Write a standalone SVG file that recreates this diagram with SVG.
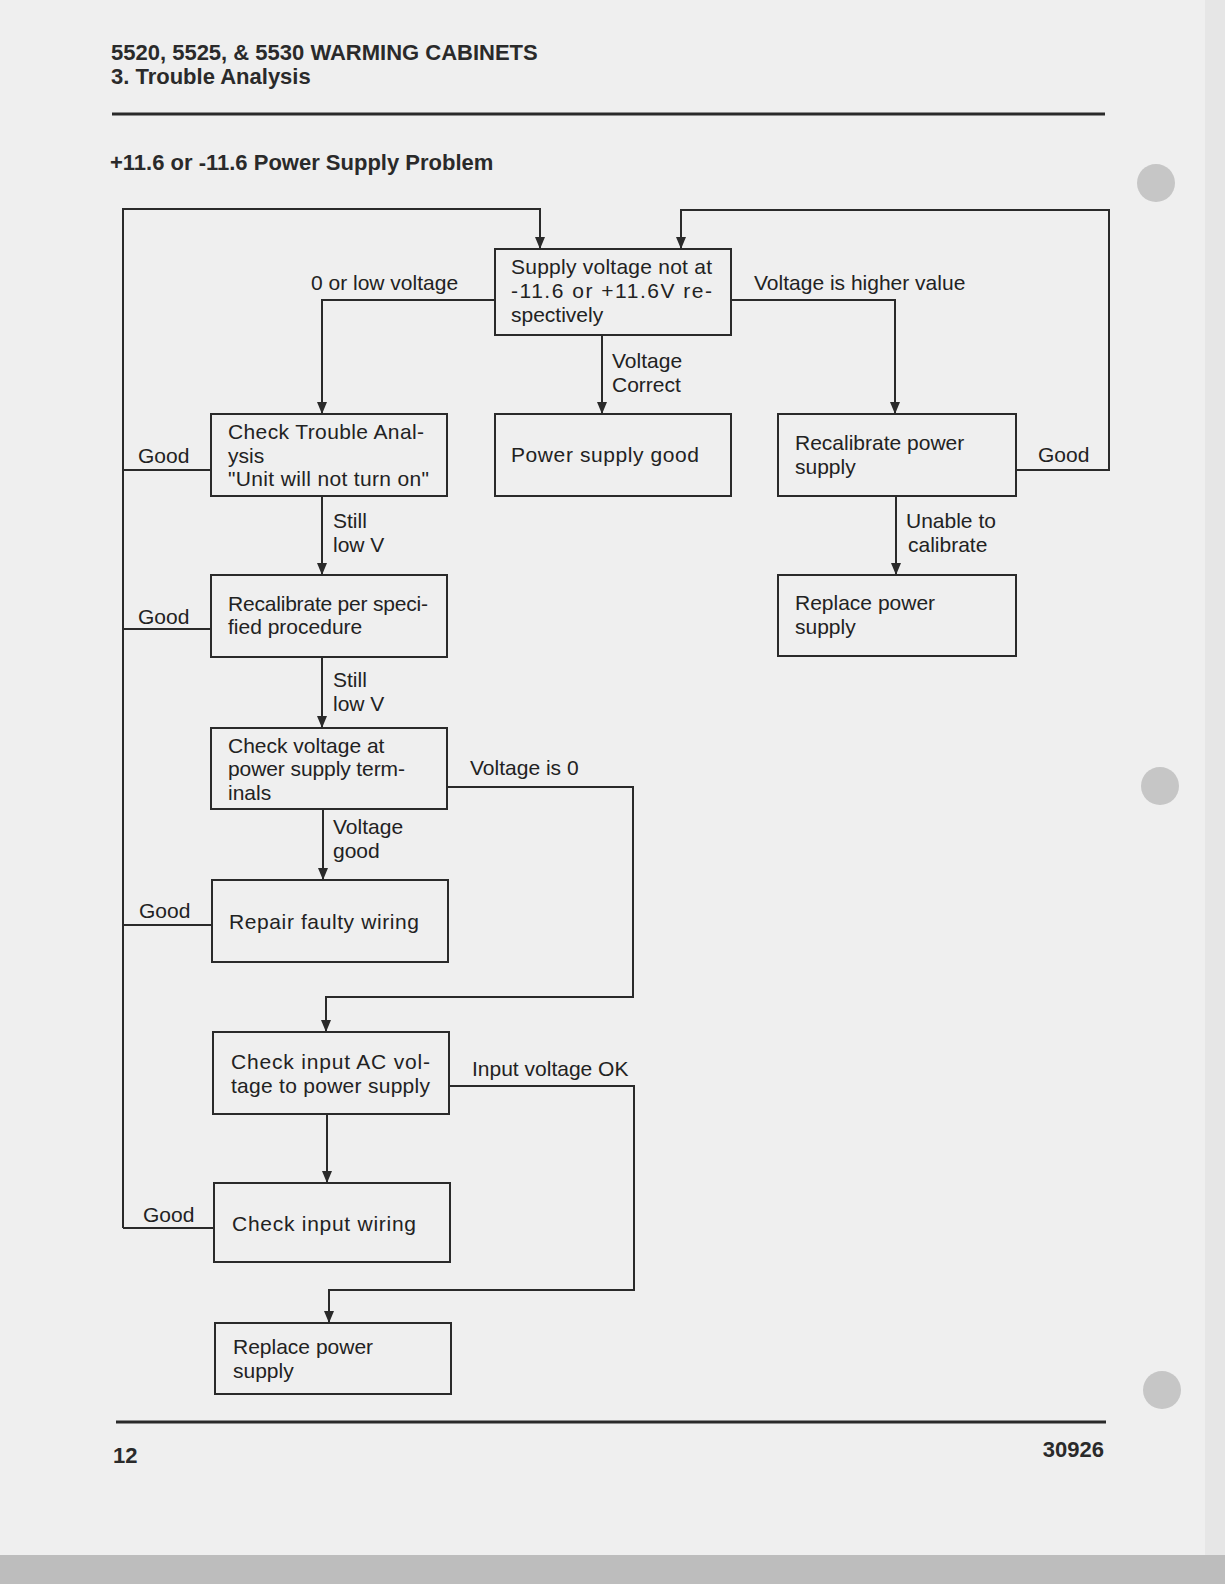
<svg xmlns="http://www.w3.org/2000/svg" width="1225" height="1584" viewBox="0 0 1225 1584">
<defs>
<marker id="arr" viewBox="0 0 12 10" refX="12" refY="5" markerWidth="12" markerHeight="10" markerUnits="userSpaceOnUse" orient="auto">
<path d="M0,0 L12,5 L0,10 Z" fill="#2a2a2a"/>
</marker>
</defs>
<style>
.bg{fill:#efefef}
.box{fill:none;stroke:#2a2a2a;stroke-width:2}
.ln{fill:none;stroke:#2a2a2a;stroke-width:2}
.t{font-family:"Liberation Sans",Arial,sans-serif;font-size:21px;fill:#222}
.h{font-family:"Liberation Sans",Arial,sans-serif;font-size:22px;font-weight:bold;fill:#2a2a2a}
.hole{fill:#c6c6c6}
</style>
<rect class="bg" x="0" y="0" width="1225" height="1584"/>
<rect x="0" y="1555" width="1225" height="29" fill="#bdbdbd"/>
<rect x="1205" y="0" width="20" height="1555" fill="#e6e6e6"/>
<circle class="hole" cx="1156" cy="183" r="19"/>
<circle class="hole" cx="1160" cy="786" r="19"/>
<circle class="hole" cx="1162" cy="1390" r="19"/>

<g id="header">
<text class="h" x="111" y="60">5520, 5525, &amp; 5530 WARMING CABINETS</text>
<text class="h" x="111" y="84">3. Trouble Analysis</text>
<line x1="112" y1="114" x2="1105" y2="114" stroke="#2a2a2a" stroke-width="3"/>
<text class="h" x="110" y="170">+11.6 or -11.6 Power Supply Problem</text>
</g>

<g id="connectors">
<polyline class="ln" points="123,1228 123,209 540,209 540,249" marker-end="url(#arr)"/>
<line class="ln" x1="123" y1="470" x2="211" y2="470"/>
<line class="ln" x1="123" y1="629" x2="211" y2="629"/>
<line class="ln" x1="123" y1="925" x2="212" y2="925"/>
<line class="ln" x1="123" y1="1228" x2="214" y2="1228"/>
<polyline class="ln" points="495,300 322,300 322,414" marker-end="url(#arr)"/>
<line class="ln" x1="602" y1="335" x2="602" y2="414" marker-end="url(#arr)"/>
<polyline class="ln" points="731,300 895,300 895,414" marker-end="url(#arr)"/>
<polyline class="ln" points="1016,470 1109,470 1109,210 681,210 681,249" marker-end="url(#arr)"/>
<line class="ln" x1="896" y1="496" x2="896" y2="575" marker-end="url(#arr)"/>
<line class="ln" x1="322" y1="496" x2="322" y2="575" marker-end="url(#arr)"/>
<line class="ln" x1="322" y1="657" x2="322" y2="728" marker-end="url(#arr)"/>
<polyline class="ln" points="447,787 633,787 633,997 326,997 326,1032" marker-end="url(#arr)"/>
<line class="ln" x1="323" y1="809" x2="323" y2="880" marker-end="url(#arr)"/>
<polyline class="ln" points="449,1086 634,1086 634,1290 329,1290 329,1323" marker-end="url(#arr)"/>
<line class="ln" x1="327" y1="1114" x2="327" y2="1183" marker-end="url(#arr)"/>
<text class="t" x="311" y="290">0 or low voltage</text>
<text class="t" x="612" y="368">Voltage</text>
<text class="t" x="612" y="392">Correct</text>
<text class="t" x="754" y="290">Voltage is higher value</text>
<text class="t" x="1038" y="462">Good</text>
<text class="t" x="906" y="528">Unable to</text>
<text class="t" x="908" y="552">calibrate</text>
<text class="t" x="333" y="528">Still</text>
<text class="t" x="333" y="552">low V</text>
<text class="t" x="333" y="687">Still</text>
<text class="t" x="333" y="711">low V</text>
<text class="t" x="470" y="775">Voltage is 0</text>
<text class="t" x="333" y="834">Voltage</text>
<text class="t" x="333" y="858">good</text>
<text class="t" x="472" y="1076">Input voltage OK</text>
<text class="t" x="138" y="463">Good</text>
<text class="t" x="138" y="624">Good</text>
<text class="t" x="139" y="918">Good</text>
<text class="t" x="143" y="1222">Good</text>
</g>

<g id="n-top">
<rect class="box" x="495" y="249" width="236" height="86"/>
<text class="t" x="511" y="274" textLength="201">Supply voltage not at</text>
<text class="t" x="511" y="298" textLength="201">-11.6 or +11.6V re-</text>
<text class="t" x="511" y="322">spectively</text>
</g>
<g id="n-good">
<rect class="box" x="495" y="414" width="236" height="82"/>
<text class="t" x="511" y="462" textLength="188">Power supply good</text>
</g>
<g id="n-recal-ps">
<rect class="box" x="778" y="414" width="238" height="82"/>
<text class="t" x="795" y="450">Recalibrate power</text>
<text class="t" x="795" y="474">supply</text>
</g>
<g id="n-replace-right">
<rect class="box" x="778" y="575" width="238" height="81"/>
<text class="t" x="795" y="610">Replace power</text>
<text class="t" x="795" y="634">supply</text>
</g>
<g id="n-check-ta">
<rect class="box" x="211" y="414" width="236" height="82"/>
<text class="t" x="228" y="439" textLength="196">Check Trouble Anal-</text>
<text class="t" x="228" y="463">ysis</text>
<text class="t" x="228" y="486" textLength="201">"Unit will not turn on"</text>
</g>
<g id="n-recal-proc">
<rect class="box" x="211" y="575" width="236" height="82"/>
<text class="t" x="228" y="611" textLength="200">Recalibrate per speci-</text>
<text class="t" x="228" y="634">fied procedure</text>
</g>
<g id="n-check-v">
<rect class="box" x="211" y="728" width="236" height="81"/>
<text class="t" x="228" y="753">Check voltage at</text>
<text class="t" x="228" y="776" textLength="177">power supply term-</text>
<text class="t" x="228" y="800">inals</text>
</g>
<g id="n-repair">
<rect class="box" x="212" y="880" width="236" height="82"/>
<text class="t" x="229" y="929" textLength="190">Repair faulty wiring</text>
</g>
<g id="n-check-ac">
<rect class="box" x="213" y="1032" width="236" height="82"/>
<text class="t" x="231" y="1069" textLength="199">Check input AC vol-</text>
<text class="t" x="231" y="1093" textLength="199">tage to power supply</text>
</g>
<g id="n-check-wiring">
<rect class="box" x="214" y="1183" width="236" height="79"/>
<text class="t" x="232" y="1231" textLength="184">Check input wiring</text>
</g>
<g id="n-replace-bottom">
<rect class="box" x="215" y="1323" width="236" height="71"/>
<text class="t" x="233" y="1354">Replace power</text>
<text class="t" x="233" y="1378">supply</text>
</g>

<g id="footer">
<line x1="116" y1="1422" x2="1106" y2="1422" stroke="#2a2a2a" stroke-width="3"/>
<text class="h" x="113" y="1463">12</text>
<text class="h" x="1104" y="1457" text-anchor="end">30926</text>
</g>
</svg>
